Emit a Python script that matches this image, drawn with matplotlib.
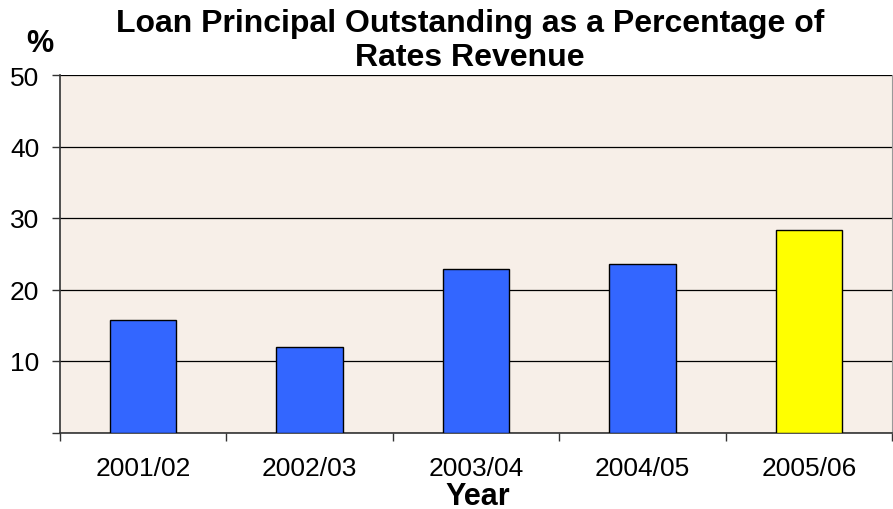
import matplotlib
matplotlib.use("Agg")
import matplotlib.pyplot as plt
import numpy as np

years = ["2001/02", "2002/03", "2003/04", "2004/05", "2005/06"]
values = [15.8, 12.0, 22.9, 23.6, 28.3]
colors = ["#3366FF", "#3366FF", "#3366FF", "#3366FF", "#FFFF00"]
yticks = [0, 10, 20, 30, 40, 50]

plt.rcParams['font.family'] = ['Liberation Sans', 'DejaVu Sans']

fig = plt.figure(figsize=(8.93, 5.10), dpi=100)
ax = fig.add_axes([60/893, 1-433.5/510, 832/893, (433.5-76)/510])
ax.set_facecolor("#f7efe8")

x = np.arange(len(years))
ax.bar(x, values, width=0.4, color=colors, edgecolor="black", linewidth=1, zorder=3)

ax.set_xlim(-0.5, len(years)-0.5)
ax.set_ylim(0, 50)
ax.set_yticks(yticks)
ax.set_yticklabels([str(t) if t > 0 else "" for t in yticks])
ax.yaxis.grid(True, color="black", linewidth=0.9, zorder=1)
ax.set_axisbelow(True)

ax.set_xticks(x)
ax.set_xticklabels(years)
ax.set_xticks(np.arange(len(years)+1)-0.5, minor=True)
ax.tick_params(axis='x', which='major', length=0, pad=17, labelsize=19)
ax.tick_params(axis='x', which='minor', length=6, width=1, color="#333333")
ax.tick_params(axis='y', length=6, width=1, color="#333333", pad=9, labelsize=19)

for s in ["left", "bottom"]:
    ax.spines[s].set_color("#333333")
    ax.spines[s].set_linewidth(1.2)
ax.spines["top"].set_visible(False)
ax.spines["right"].set_color("#999999")

fig.text(470/893, 1-41/510, "Loan Principal Outstanding as a Percentage of\nRates Revenue",
         ha="center", va="center", fontsize=23, fontweight="bold", linespacing=1.15)
fig.text(40/893, 1-44/510, "%", ha="center", va="center", fontsize=22, fontweight="bold")
fig.text(478/893, 1-497/510, "Year", ha="center", va="center", fontsize=22, fontweight="bold")

fig.savefig("out.png", dpi=100)
